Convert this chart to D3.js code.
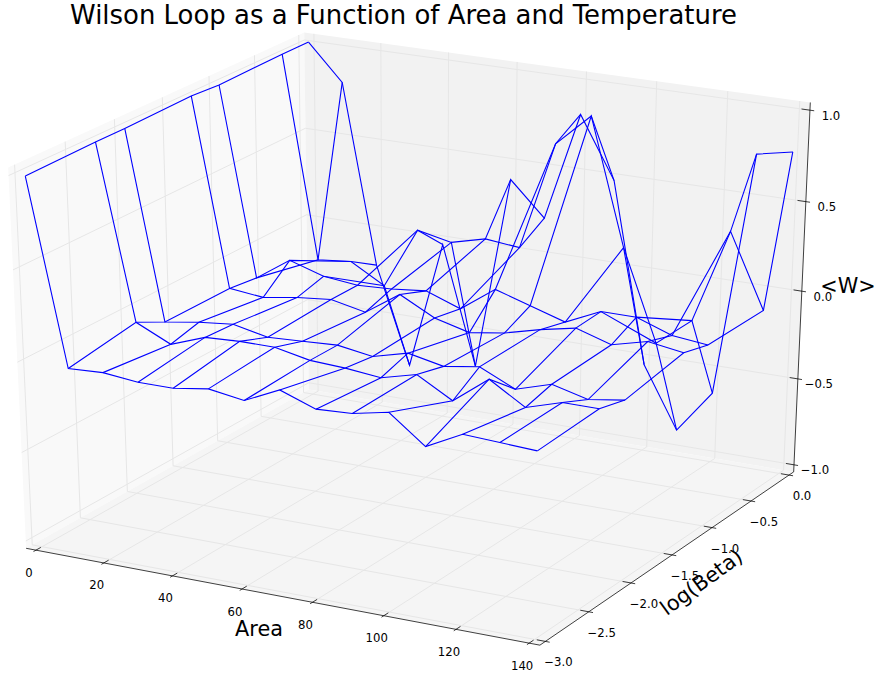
<!DOCTYPE html>
<html>
<head>
<meta charset="utf-8">
<script src="https://cdn.jsdelivr.net/npm/d3@7"></script>
<style>
body { margin: 0; background: #fff; }
text { font-family: "DejaVu Sans", sans-serif; fill: #000; }
</style>
</head>
<body>
<svg id="chart" width="878" height="677"></svg>
<script>
var areas = [0, 10, 20, 30, 40, 50, 60, 70, 80, 90, 100, 110, 120, 130, 140]
var logBetas = [-3, -2.3, -2, -1.3, -1, -0.3, 0]

// Wilson loop values along Area, one list per log(Beta)
var wBetaM30 = [0.99, -0.01, 0.00, -0.02, -0.02, 0.01, -0.02, 0.07, 0.00, 0.01, 0.05, -0.10, 0.00, -0.01, -0.02]
var wBetaM23 = [1.00, 0.05, -0.04, 0.03, 0.04, 0.04, 0.00, -0.01, -0.03, 0.02, -0.09, 0.06, -0.06, 0.00, 0.00]
var wBetaM20 = [1.00, -0.03, 0.00, 0.02, -0.02, -0.01, 0.00, -0.03, 0.02, -0.02, 0.01, -0.08, -0.02, -0.07, -0.04]
var wBetaM13 = [1.01, -0.03, -0.05, -0.02, 0.00, -0.04, 0.09, -0.01, -0.06, -0.03, 0.02, 0.06, 0.00, 0.05, 0.02]
var wBetaM10 = [1.00, -0.05, 0.08, 0.02, 0.00, 0.01, 0.03, -0.04, 0.10, 0.04, -0.02, 0.07, 0.07, 0.00, -0.02]
var wBetaM03 = [1.01, -0.13, -0.11, -0.22, 0.13, 0.09, 0.14, 0.12, 0.73, 0.91, 0.21, -0.30, -0.14, 0.39, -0.02]
var wBeta00 = [1.01, 0.81, -0.21, -0.77, -0.03, -0.71, 0.40, 0.21, 0.82, 0.48, -0.54, -0.89, -0.64, 0.74, 0.78]
var wSeries = [wBetaM30, wBetaM23, wBetaM20, wBetaM13, wBetaM10, wBetaM03, wBeta00]

var xTicks = [0, 20, 40, 60, 80, 100, 120, 140]
var yTicks = [-3, -2.5, -2, -1.5, -1, -0.5, 0]
var zTicks = [-1, -0.5, 0, 0.5, 1]

var elev = 25 * Math.PI / 180, azim = -61.7 * Math.PI / 180, dist = 10
var sx = d3.scaleLinear().domain([0, 140]).range([0, 1])
var sy = d3.scaleLinear().domain([-3, 0]).range([0, 1])
var sz = d3.scaleLinear().domain([-1, 1]).range([0, 1])
var lo = -1 / 48, hi = 1 + 1 / 48

function dot(a, b) { return a[0]*b[0] + a[1]*b[1] + a[2]*b[2] }
function cross(a, b) { return [a[1]*b[2]-a[2]*b[1], a[2]*b[0]-a[0]*b[2], a[0]*b[1]-a[1]*b[0]] }
function norm(a) { var l = Math.sqrt(dot(a, a)); return [a[0]/l, a[1]/l, a[2]/l] }
var n = [Math.cos(azim)*Math.cos(elev), Math.sin(azim)*Math.cos(elev), Math.sin(elev)]
var eye = [0.5+dist*n[0], 0.5+dist*n[1], 0.5+dist*n[2]]
var u = norm(cross([0,0,1], n))
var v = cross(n, u)
var px = d3.scaleLinear().domain([-0.05, 0.05]).range([139.23, 694.99])
var py = d3.scaleLinear().domain([-0.05, 0.05]).range([524.52, 127.52])

function proj(p) {
	var d = [p[0]-eye[0], p[1]-eye[1], p[2]-eye[2]]
	var w = -dot(n, d)
	return [px(dot(u, d)/w), py(dot(v, d)/w)]
}

var svg = d3.select("#chart")
var line = d3.line()

function pane(pts, fill) {
	svg.append("path").attr("d", line(pts.map(proj)) + "Z").attr("fill", fill).attr("stroke", "none")
}
pane([[lo,lo,lo],[lo,hi,lo],[lo,hi,hi],[lo,lo,hi]], "#f9f9f9")
pane([[lo,hi,lo],[hi,hi,lo],[hi,hi,hi],[lo,hi,hi]], "#f2f2f2")
pane([[lo,lo,lo],[hi,lo,lo],[hi,hi,lo],[lo,hi,lo]], "#f5f5f5")

function grid(pts) {
	svg.append("path").attr("d", line(pts.map(proj))).attr("fill", "none").attr("stroke", "#e6e6e6").attr("stroke-width", 1)
}
xTicks.forEach(function(t) { var x = sx(t); grid([[x,lo,lo],[x,hi,lo],[x,hi,hi]]) })
yTicks.forEach(function(t) { var y = sy(t); grid([[hi,y,lo],[lo,y,lo],[lo,y,hi]]) })
zTicks.forEach(function(t) { var z = sz(t); grid([[lo,lo,z],[lo,hi,z],[hi,hi,z]]) })

function ink(pts) {
	svg.append("path").attr("d", line(pts.map(proj))).attr("fill", "none").attr("stroke", "#000").attr("stroke-width", 0.75)
}
ink([[lo,lo,lo],[hi,lo,lo]])
ink([[hi,lo,lo],[hi,hi,lo]])
ink([[hi,hi,lo],[hi,hi,hi]])

var tOut = 1 / 120, tIn = 1 / 60
function label(pt, dx, dy, s) {
	var q = proj(pt)
	svg.append("text").attr("x", q[0]+dx).attr("y", q[1]+dy).attr("text-anchor", "middle")
		.attr("dominant-baseline", "central").attr("font-size", 11.7).text(s)
}
function fmt(t) { return (t < 0 ? "\u2212" : "") + Math.abs(t).toFixed(1) }
xTicks.forEach(function(t) {
	var x = sx(t)
	ink([[x,lo-tOut,lo],[x,lo+tIn,lo]])
	label([x,lo,lo], -7, 22.5, String(t))
})
yTicks.forEach(function(t) {
	var y = sy(t)
	ink([[hi+tOut,y,lo],[hi-tIn,y,lo]])
	label([hi,y,lo], 13, 21, fmt(t))
})
zTicks.forEach(function(t) {
	var z = sz(t)
	ink([[hi+tOut,hi,z],[hi-tIn,hi,z]])
	label([hi,hi,z], 21, 5.5, fmt(t))
})

// wireframe: one path per Area value and one per log(Beta) value
var wire = svg.append("g").attr("fill", "none").attr("stroke", "#0000ff").attr("stroke-width", 1.1)
function node(i, j) { return proj([sx(areas[i]), sy(logBetas[j]), sz(wSeries[j][i])]) }
areas.forEach(function(a, i) {
	wire.append("path").attr("d", line(logBetas.map(function(b, j) { return node(i, j) })))
})
logBetas.forEach(function(b, j) {
	wire.append("path").attr("d", line(areas.map(function(a, i) { return node(i, j) })))
})

svg.append("text").attr("x", 403.5).attr("y", 24).attr("text-anchor", "middle").attr("font-size", 25.95).text("Wilson Loop as a Function of Area and Temperature")
svg.append("text").attr("x", 259).attr("y", 636).attr("text-anchor", "middle").attr("font-size", 20.8).text("Area")
svg.append("text").attr("x", 848).attr("y", 293).attr("text-anchor", "middle").attr("font-size", 20.8).text("<W>")
svg.append("text").attr("transform", "translate(705.5,588) rotate(-36)").attr("text-anchor", "middle").attr("font-size", 20.8).text("log(Beta)")
</script>
</body>
</html>
